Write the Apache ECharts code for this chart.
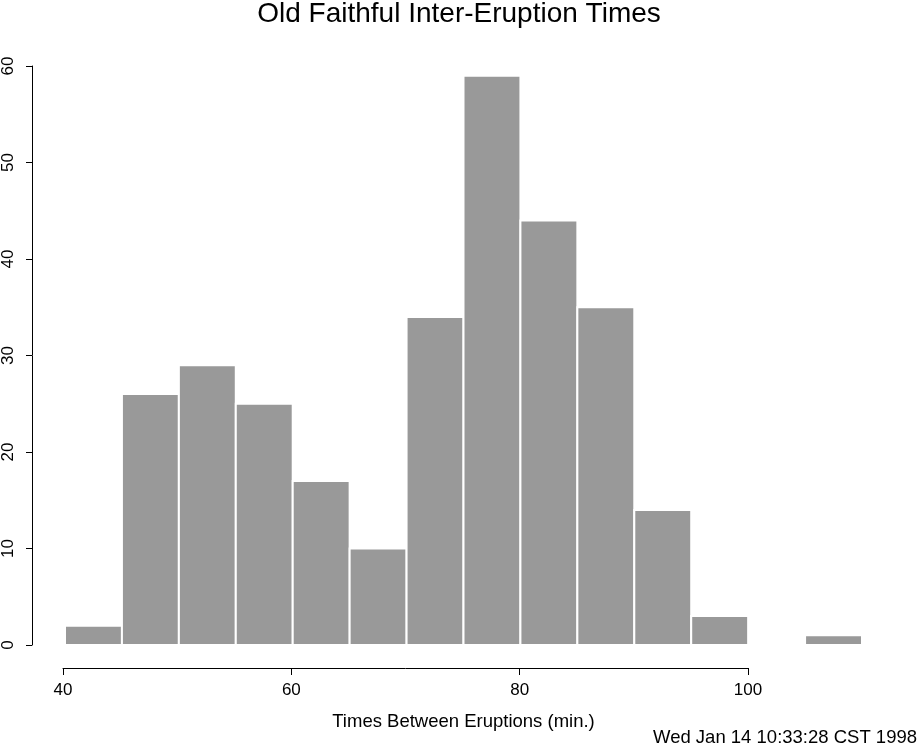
<!DOCTYPE html>
<html>
<head>
<meta charset="utf-8">
<script src="https://cdn.jsdelivr.net/npm/echarts@6/dist/echarts.min.js"></script>
<style>
html,body{margin:0;padding:0;background:#fff;}
#chart{width:918px;height:746px;}
</style>
</head>
<body>
<div id="chart"></div>
<script>
// Data
var binStarts = [40, 45, 50, 55, 60, 65, 70, 75, 80, 85, 90, 95, 100, 105];
var binWidth = 5;
var counts = [2, 26, 29, 25, 17, 10, 34, 59, 44, 35, 14, 3, 0, 1];
var xTicks = [40, 60, 80, 100];
var yTicks = [0, 10, 20, 30, 40, 50, 60];
var titleText = 'Old Faithful Inter-Eruption Times';
var xLabel = 'Times Between Eruptions (min.)';
var dateText = 'Wed Jan 14 10:33:28 CST 1998';

var FONT = '"Liberation Sans", Arial, Helvetica, sans-serif';

var histData = binStarts.map(function (s, i) { return [s, s + binWidth, counts[i]]; });

var chart = echarts.init(document.getElementById('chart'), null, {renderer: 'canvas'});
chart.setOption({
  animation: false,
  backgroundColor: '#ffffff',
  title: [{
    text: titleText,
    left: 'center',
    top: -5,
    textStyle: {fontFamily: FONT, fontSize: 28, fontWeight: 'normal', color: '#000'}
  }, {
    text: dateText,
    right: -4,
    bottom: -6,
    textStyle: {fontFamily: FONT, fontSize: 18.5, fontWeight: 'normal', color: '#000'}
  }],
  grid: [
    {left: 63, right: 56, top: 66, bottom: 101},
    {left: 63, width: 685, top: 600, height: 68}
  ],
  xAxis: [{
    gridIndex: 0,
    type: 'value',
    min: 40, max: 110,
    name: xLabel,
    nameLocation: 'middle',
    nameGap: 67,
    nameTextStyle: {fontFamily: FONT, fontSize: 18.5, color: '#000'},
    axisLine: {show: false},
    axisTick: {show: false},
    axisLabel: {show: false},
    splitLine: {show: false}
  }, {
    gridIndex: 1,
    type: 'value',
    min: xTicks[0], max: xTicks[xTicks.length - 1],
    interval: xTicks[1] - xTicks[0],
    axisLine: {show: true, lineStyle: {color: '#000', width: 1}},
    axisTick: {show: true, length: 7, lineStyle: {color: '#000', width: 1}},
    axisLabel: {show: true, margin: 14, fontFamily: FONT, fontSize: 17, color: '#000'},
    splitLine: {show: false}
  }],
  yAxis: [{
    gridIndex: 0,
    type: 'value',
    min: yTicks[0], max: yTicks[yTicks.length - 1],
    interval: yTicks[1] - yTicks[0],
    offset: 33,
    axisLine: {show: true, lineStyle: {color: '#000', width: 1}},
    axisTick: {show: true, length: 6, lineStyle: {color: '#000', width: 1}},
    axisLabel: {show: true, rotate: 90, margin: 15, fontFamily: FONT, fontSize: 17, color: '#000'},
    splitLine: {show: false}
  }, {
    gridIndex: 1,
    type: 'value',
    min: 0, max: 1,
    show: false
  }],
  series: [{
    type: 'custom',
    xAxisIndex: 0,
    yAxisIndex: 0,
    data: histData,
    encode: {x: [0, 1], y: 2},
    renderItem: function (params, api) {
      var v = api.value(2);
      if (!v) return null;
      var p0 = api.coord([api.value(0), 0]);
      var p1 = api.coord([api.value(1), v]);
      return {
        type: 'rect',
        shape: {x: p0[0], y: p1[1], width: p1[0] - p0[0], height: p0[1] - p1[1]},
        style: {fill: '#999999', stroke: '#ffffff', lineWidth: 2}
      };
    }
  }]
});
</script>
</body>
</html>
